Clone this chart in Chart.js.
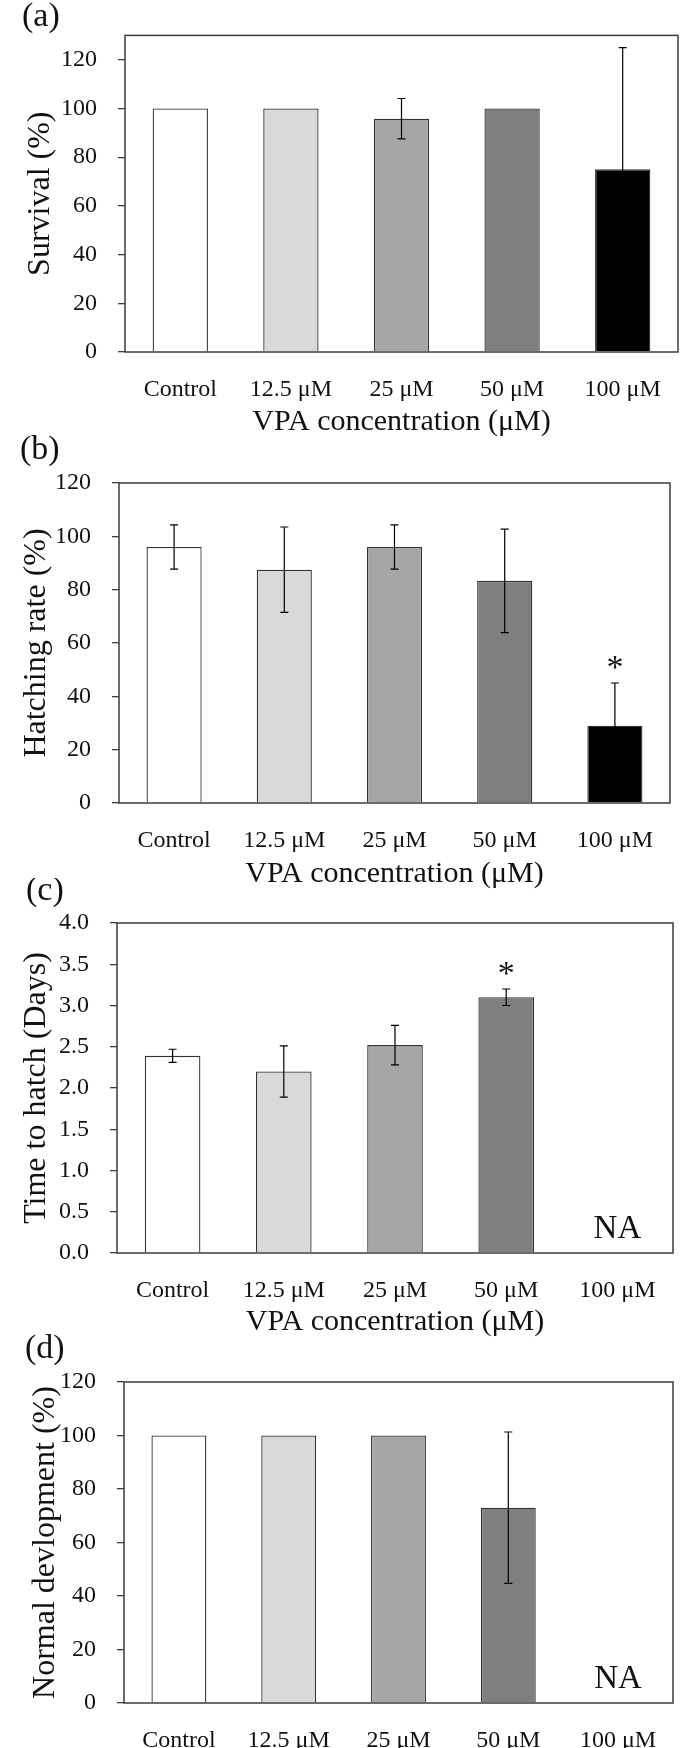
<!DOCTYPE html>
<html>
<head>
<meta charset="utf-8">
<script src="https://cdn.jsdelivr.net/npm/chart.js@4.4.1/dist/chart.umd.min.js"></script>
<style>
  html, body { margin: 0; padding: 0; background: #fff; }
  #wrap { position: relative; width: 700px; height: 1748px; overflow: hidden; }
  #wrap canvas { position: absolute; left: 0; }
</style>
</head>
<body>
<div id="wrap"></div>
<script>
// data
const categories = ['Control', '12.5 μM', '25 μM', '50 μM', '100 μM'];

const survival = [100, 100, 95.8, 100, 75];
const survivalErr = [null, null, 8.3, null, 50];
const survivalTicks = [0, 20, 40, 60, 80, 100, 120];

const hatching = [96, 87.5, 96, 83.3, 29];
const hatchingErr = [8.3, 16, 8.3, 19.4, 16];
const hatchingMarks = ['', '', '', '', '*'];
const hatchingTicks = [0, 20, 40, 60, 80, 100, 120];

const hatchTime = [2.39, 2.2, 2.52, 3.1, null];
const hatchTimeErr = [0.08, 0.31, 0.24, 0.1, null];
const hatchTimeMarks = ['', '', '', '*', ''];
const hatchTimeNA = ['', '', '', '', 'NA'];
const hatchTimeTicks = [0, 0.5, 1, 1.5, 2, 2.5, 3, 3.5, 4];

const normalDev = [100, 100, 100, 73, null];
const normalDevErr = [null, null, null, 28.3, null];
const normalDevNA = ['', '', '', '', 'NA'];
const normalDevTicks = [0, 20, 40, 60, 80, 100, 120];

const xTitle = 'VPA concentration (μM)';

// styles
const serif = '"Liberation Serif", "Times New Roman", serif';
const barFills = ['#ffffff', '#d9d9d9', '#a6a6a6', '#7f7f7f', '#000000'];
const ink = '#111';

// error bars, stars, NA, frame and panel letter
const panelDecor = {
    id: 'panelDecor',
    afterDatasetsDraw(chart, args, opts) {
        const ctx = chart.ctx;
        const a = chart.chartArea;
        const xs = chart.scales.x, ys = chart.scales.y;
        const vals = chart.data.datasets[0].data;

        ctx.save();
        ctx.strokeStyle = '#3c3c3c';
        ctx.lineWidth = 1.5;
        ctx.strokeRect(a.left, a.top, a.right - a.left, a.bottom - a.top);

        ctx.strokeStyle = '#000';
        ctx.lineWidth = 1.2;
        (opts.errors || []).forEach((e, i) => {
            const v = vals[i];
            if (e == null || v == null) return;
            const px = xs.getPixelForValue(i);
            const hi = ys.getPixelForValue(v + e);
            const lo = ys.getPixelForValue(v - e);
            ctx.beginPath();
            ctx.moveTo(px, hi); ctx.lineTo(px, lo);
            ctx.moveTo(px - 4, hi); ctx.lineTo(px + 4, hi);
            ctx.moveTo(px - 4, lo); ctx.lineTo(px + 4, lo);
            ctx.stroke();
        });

        ctx.fillStyle = ink;
        ctx.textAlign = 'center';
        ctx.textBaseline = 'middle';
        ctx.font = '34px ' + serif;
        (opts.marks || []).forEach((m, i) => {
            if (!m) return;
            const top = vals[i] + (opts.errors[i] || 0);
            ctx.fillText(m, xs.getPixelForValue(i), ys.getPixelForValue(top) - 14);
        });
        ctx.font = '33px ' + serif;
        (opts.na || []).forEach((m, i) => {
            if (!m) return;
            ctx.fillText(m, xs.getPixelForValue(i), a.bottom - 24);
        });

        ctx.font = '34px ' + serif;
        ctx.textAlign = 'left';
        ctx.fillText(opts.letter, opts.letterX, opts.letterY);
        ctx.restore();
    }
};

function buildPanel(spec) {
    const canvas = document.createElement('canvas');
    const h = spec.bottom - spec.top;
    canvas.width = 700;
    canvas.height = h;
    canvas.style.top = spec.top + 'px';
    canvas.style.width = '700px';
    canvas.style.height = h + 'px';
    document.getElementById('wrap').appendChild(canvas);

    return new Chart(canvas, {
        type: 'bar',
        data: {
            labels: categories,
            datasets: [{
                data: spec.values,
                backgroundColor: barFills,
                borderColor: '#333',
                borderWidth: 1.3,
                barPercentage: 0.5,
                categoryPercentage: 1
            }]
        },
        options: {
            responsive: false,
            animation: false,
            layout: { padding: { top: spec.plotTop - spec.top, right: 700 - spec.plotRight, left: 0, bottom: 0 } },
            plugins: {
                legend: { display: false },
                tooltip: { enabled: false },
                panelDecor: {
                    errors: spec.errors,
                    marks: spec.marks,
                    na: spec.na,
                    letter: spec.letter,
                    letterX: spec.letterX,
                    letterY: spec.letterY - spec.top
                }
            },
            scales: {
                x: {
                    grid: { display: false },
                    border: { display: false },
                    ticks: { font: { family: serif, size: 24 }, color: ink, padding: 15, maxRotation: 0, autoSkip: false },
                    title: {
                        display: spec.showTitle,
                        text: xTitle,
                        font: { family: serif, size: 30 },
                        color: ink,
                        padding: { top: 0, bottom: 0 }
                    },
                    afterFit(s) { s.height = spec.bottom - spec.plotBottom; }
                },
                y: {
                    min: 0,
                    max: spec.max,
                    afterBuildTicks(s) { s.ticks = spec.ticks.map(v => ({ value: v })); },
                    ticks: {
                        font: { family: serif, size: 24 },
                        color: ink,
                        padding: 21,
                        callback: v => spec.decimals ? v.toFixed(spec.decimals) : v
                    },
                    grid: { drawOnChartArea: false, drawTicks: true, tickLength: 7, color: '#3c3c3c', lineWidth: 1.3 },
                    border: { display: false },
                    title: {
                        display: true,
                        text: spec.yTitle,
                        font: { family: serif, size: 32 },
                        color: ink,
                        padding: { top: spec.yTitlePad, bottom: 0 }
                    },
                    afterFit(s) { s.width = spec.plotLeft; }
                }
            }
        },
        plugins: [panelDecor]
    });
}

buildPanel({
    top: 0, bottom: 440, plotTop: 31, plotBottom: 352, plotLeft: 125, plotRight: 678,
    values: survival, errors: survivalErr, max: 130, ticks: survivalTicks,
    yTitle: 'Survival (%)', yTitlePad: 21, showTitle: true,
    letter: '(a)', letterX: 22, letterY: 17
});

buildPanel({
    top: 432, bottom: 892, plotTop: 483, plotBottom: 803, plotLeft: 119, plotRight: 670,
    values: hatching, errors: hatchingErr, marks: hatchingMarks, max: 120, ticks: hatchingTicks,
    yTitle: 'Hatching rate (%)', yTitlePad: 17, showTitle: true,
    letter: '(b)', letterX: 20, letterY: 450
});

buildPanel({
    top: 878, bottom: 1340, plotTop: 923, plotBottom: 1253, plotLeft: 117, plotRight: 673,
    values: hatchTime, errors: hatchTimeErr, marks: hatchTimeMarks, na: hatchTimeNA,
    max: 4, ticks: hatchTimeTicks, decimals: 1,
    yTitle: 'Time to hatch (Days)', yTitlePad: 17, showTitle: true,
    letter: '(c)', letterX: 26, letterY: 891
});

buildPanel({
    top: 1330, bottom: 1748, plotTop: 1382, plotBottom: 1703, plotLeft: 124, plotRight: 673,
    values: normalDev, errors: normalDevErr, na: normalDevNA, max: 120, ticks: normalDevTicks,
    yTitle: 'Normal devlopment (%)', yTitlePad: 26, showTitle: false,
    letter: '(d)', letterX: 25, letterY: 1349
});
</script>
</body>
</html>
